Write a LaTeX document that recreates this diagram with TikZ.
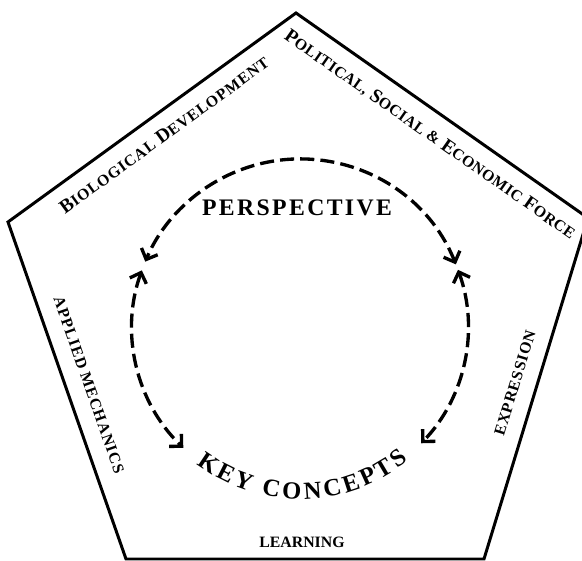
\documentclass[tikz,border=0pt]{standalone}
\usepackage{fontspec}
\setmainfont{Liberation Serif}
\newfontfamily\lblfont{Liberation Serif}[LetterSpace=6]
\newfontfamily\polfont{Liberation Serif}[LetterSpace=3]
\newfontfamily\ttlfont{Liberation Serif}[LetterSpace=10]
\usetikzlibrary{arrows.meta, decorations.text}
% fake small caps: large first letter, smaller rest
\newcommand{\fsc}[2]{{\fontsize{11}{13}\selectfont #1}{\fontsize{9}{10}\selectfont #2}}

\begin{document}
\begin{tikzpicture}[x=0.02cm, y=0.02cm,
    edge/.style={line width=1.7pt, line join=miter},
    cycleline/.style={line width=1.9pt, dash pattern=on 8pt off 3.5pt,
      {Straight Barb[length=5pt,width=10pt]}-{Straight Barb[length=5pt,width=10pt]}},
    sidelabel/.style={font=\lblfont\bfseries\fontsize{9}{11}\selectfont, inner sep=0pt}]
        \useasboundingbox (0,0) rectangle (582,561);
        \clip (0,0) rectangle (582,561);
        % Pentagon outline
        \coordinate (top) at (296,548);
        \coordinate (rv) at (588,343);
        \coordinate (brv) at (484,2);
        \coordinate (blv) at (126,2);
        \coordinate (lv) at (8,339);
        \draw[edge] (top) -- (rv) -- (brv) -- (blv) -- (lv) -- cycle;
        % Side labels
        \node[sidelabel, rotate=36] (bio) at (164,426) {\fsc{B}{IOLOGICAL} \fsc{D}{EVELOPMENT}};
        \node[sidelabel, font=\polfont\bfseries, rotate=-35] (pol) at (430,426) {\fsc{P}{OLITICAL,} \fsc{S}{OCIAL} \fsc{}{\&} \fsc{E}{CONOMIC} \fsc{F}{ORCE}};
        \node[sidelabel, rotate=-70.7] (appl) at (89,176) {APPLIED MECHANICS};
        \node[sidelabel, rotate=73] (expr) at (515,178) {EXPRESSION};
        \node[sidelabel, font=\bfseries\fontsize{9}{11}\selectfont] (learn) at (302,19) {LEARNING};
        % Centre: perspective and key concepts
        \coordinate (c) at (300,234);
        \node[font=\ttlfont\bfseries\fontsize{13.5}{15}\selectfont, inner sep=0pt] (persp) at (297,353) {PERSPECTIVE};
        \path[decorate, decoration={text along path, text align={fit to path},
          text={|\bfseries\fontsize{14}{16}\selectfont|KEY CONCEPTS}}]
          (c) ++(233:172) arc[start angle=233, end angle=309, radius=172];
        % Dashed cycle arrows
        \draw[cycleline] (c) ++(21.9:168) arc[start angle=21.9, end angle=157.1, radius=168];
        \draw[cycleline] (c) ++(160.3:168) arc[start angle=160.3, end angle=226, radius=168];
        \draw[cycleline] (c) ++(19.9:168) arc[start angle=19.9, end angle=-43.8, radius=168];
\end{tikzpicture}
\end{document}
